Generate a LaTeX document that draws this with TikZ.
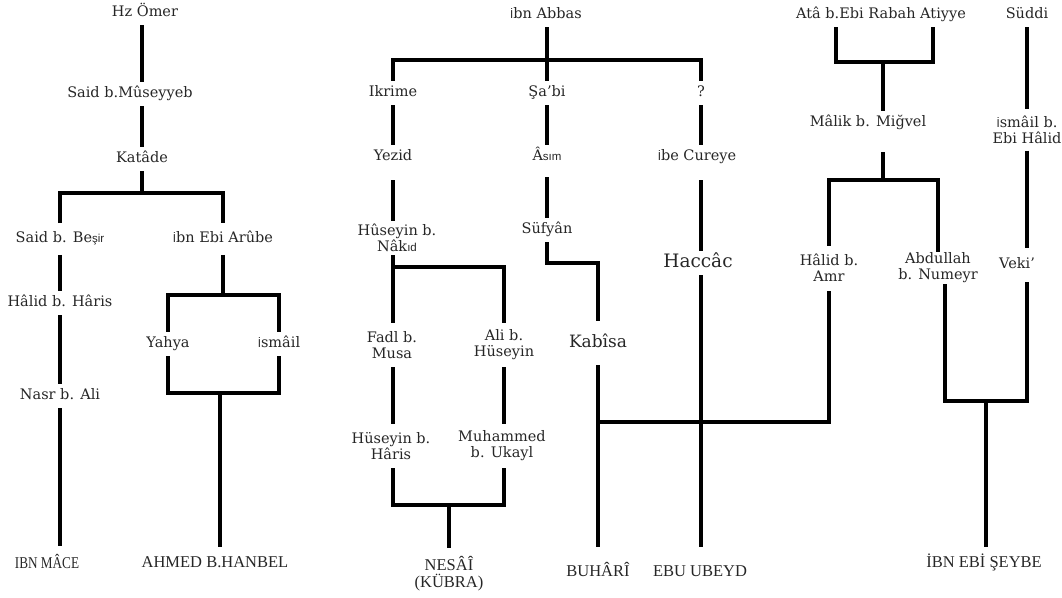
\documentclass[tikz,border=0pt]{standalone}
\usepackage{fontspec}
\setmainfont{DejaVu Serif}
\newfontfamily\capsfont{Liberation Serif}
\newfontfamily\fbfont{Liberation Sans}
\newcommand\fb[1]{{\fbfont\fontsize{11.5}{12}\selectfont #1}}
\tikzset{
  ln/.style={line width=3.2pt, line join=miter},
  t/.style={font=\fontsize{14.5}{16}\selectfont, text height=9pt, text depth=2.5pt, inner xsep=1pt, inner ysep=6.5pt, text=black!85},
  tt/.style={font=\fontsize{14.5}{16}\selectfont, align=center, inner xsep=1pt, inner ysep=6pt, text=black!85},
  big/.style={font=\fontsize{17}{20}\selectfont, text height=11.5pt, text depth=3pt, inner xsep=1pt, inner ysep=6pt, text=black!85},
  b/.style={font=\capsfont\fontsize{16.5}{17}\selectfont, text height=12pt, text depth=3.5pt, inner xsep=1pt, inner ysep=8.5pt, text=black!85},
  btwo/.style={font=\capsfont\fontsize{16.5}{17}\selectfont, align=center, inner xsep=1pt, inner ysep=8.5pt, text=black!85}
}
\begin{document}
\begin{tikzpicture}[x=1pt,y=-1pt]
\useasboundingbox (0,0) rectangle (1062,597);
% ---------- left tree
\node[t] (hz) at (145,13) {Hz Ömer};
\node[t] (said) at (130,94) {Said b.Mûseyyeb};
\node[t] (katade) at (142,159) {Katâde};
\node[t,inner ysep=10pt] (besir) at (60,239) {Said b. Be\fb{şir}};
\node[t,inner ysep=10pt] (arube) at (223,239) {\fb{İ}bn Ebi Arûbe};
\node[t] (halidh) at (60,303) {Hâlid b. Hâris};
\node[t] (nasr) at (60,396) {Nasr b. Ali};
\node[t] (yahya) at (168,344) {Yahya};
\node[t] (ismail) at (279,344) {\fb{İ}smâil};
\node[b, inner ysep=10pt] (ibnmace) at (47,564) {\scalebox{0.8}[1]{IBN MÂCE}};
\node[b] (ahmed) at (215,563) {AHMED B.HANBEL};
\coordinate (j1) at (142,193);
\coordinate (j2) at (223,295);
\coordinate (j3) at (220,393);
\draw[ln] (hz.south -| katade) -- (said.north -| katade);
\draw[ln] (said.south -| katade) -- (katade.north);
\draw[ln] (katade.south) -- (j1);
\draw[ln] (besir.north) |- (j1) -| (arube.north);
\draw[ln] (besir.south) -- (halidh.north);
\draw[ln] (halidh.south) -- (nasr.north);
\draw[ln] (nasr.south) -- (ibnmace.north -| nasr);
\draw[ln] (arube.south) -- (j2);
\draw[ln] (yahya.north) |- (j2) -| (ismail.north);
\draw[ln] (yahya.south) |- (j3) -| (ismail.south);
\draw[ln] (j3) -- (ahmed.north -| j3);
% ---------- middle tree
\node[t] (abbas) at (546,15) {\fb{İ}bn Abbas};
\node[t] (ikrime) at (393,93) {Ikrime};
\node[t] (sabi) at (547,93) {Şa’bi};
\node[t] (q) at (701,93) {?};
\node[t] (yezid) at (393,157) {Yezid};
\node[t] (asim) at (547,157) {Â\fb{sım}};
\node[t] (cureye) at (697,157) {\fb{İ}be Cureye};
\node[tt, inner ysep=3pt] (huseyinn) at (397,238) {Hûseyin b.\\Nâk\fb{ıd}};
\node[t] (sufyan) at (547,230) {Süfyân};
\node[big, font=\fontsize{18.5}{20}\selectfont, inner ysep=5pt] (haccac) at (698,263) {Haccâc};
\node[tt, inner ysep=8.5pt] (fadl) at (392,345) {Fadl b.\\Musa};
\node[tt, inner ysep=7pt] (ali) at (504,345) {Ali b.\\Hüseyin};
\node[big, inner ysep=15pt] (kabisa) at (598,343) {Kabîsa};
\node[tt, inner ysep=8.5pt] (huseyinh) at (391,446) {Hüseyin b.\\Hâris};
\node[tt, inner ysep=7pt] (muhammed) at (502,446) {Muhammed\\b. Ukayl};
\node[btwo] (nesai) at (449,574) {NESÂÎ\\(KÜBRA)};
\node[b, inner ysep=17pt] (buhari) at (598,572) {BUHÂRÎ};
\node[b, inner ysep=17pt] (ebu) at (700,572) {EBU UBEYD};
\coordinate (m1) at (547,60);
\coordinate (m2) at (393,267);
\coordinate (m3) at (547,263);
\coordinate (m4) at (449,505);
\coordinate (m5) at (598,422);
\draw[ln] (abbas.south -| sabi) -- (sabi.north);
\draw[ln] (ikrime.north) |- (m1) -| (q.north);
\draw[ln] (ikrime.south) -- (yezid.north);
\draw[ln] (sabi.south) -- (asim.north);
\draw[ln] (q.south) -- (cureye.north -| q);
\draw[ln, shorten <=11pt] (yezid.south) -- (huseyinn.north -| yezid);
\draw[ln, shorten <=8pt] (asim.south) -- (sufyan.north);
\draw[ln, shorten <=11pt] (cureye.south -| q) -- (haccac.north -| q);
\draw[ln] (huseyinn.south -| yezid) -- (fadl.north -| yezid);
\draw[ln] (m2) -| (ali.north);
\draw[ln] (sufyan.south) -- (m3) -| (kabisa.north);
\draw[ln] (fadl.south -| yezid) -- (huseyinh.north -| yezid);
\draw[ln] (ali.south) -- (muhammed.north -| ali);
\draw[ln] (huseyinh.south -| yezid) |- (m4) -| (muhammed.south -| ali);
\draw[ln] (m4) -- (nesai.north);
\draw[ln] (kabisa.south) -- (buhari.north);
\draw[ln] (haccac.south -| q) -- (ebu.north -| q);
% ---------- right tree
\node[t] (ata) at (881,15) {Atâ b.Ebi Rabah Atiyye};
\node[t] (malik) at (868,123) {Mâlik b. Miğvel};
\node[tt, inner ysep=8.5pt] (halidamr) at (829,268) {Hâlid b.\\Amr};
\node[tt, inner ysep=1pt] (abdullah) at (938,268) {Abdullah\\b. Numeyr};
\node[t] (suddi) at (1027,15) {Süddi};
\node[tt, inner ysep=6.5pt] (ismailb) at (1027,130) {\fb{İ}smâil b.\\Ebi Hâlid};
\node[t, inner ysep=10.75pt] (veki) at (1017,265) {Veki’};
\node[b] (ibnebi) at (984,563) {İBN EBİ ŞEYBE};
\coordinate (r1) at (883,62);
\coordinate (r2) at (883,180);
\coordinate (r3) at (986,401);
\draw[ln] (m5) -| (halidamr.south);
\draw[ln] ([xshift=-45pt]ata.south) |- (r1) -| ([xshift=52pt]ata.south);
\draw[ln] (r1) -- (malik.north -| r1);
\draw[ln, shorten <=17pt] (malik.south -| r1) -- (r2);
\draw[ln] (halidamr.north) |- (r2) -| (abdullah.north);
\draw[ln] ([xshift=7pt]abdullah.south) |- (r3) -| (veki.south -| ismailb);
\draw[ln] (r3) -- (ibnebi.north -| r3);
\draw[ln] (suddi.south) -- (ismailb.north);
\draw[ln] (ismailb.south) -- (veki.north -| ismailb);
\end{tikzpicture}
\end{document}
